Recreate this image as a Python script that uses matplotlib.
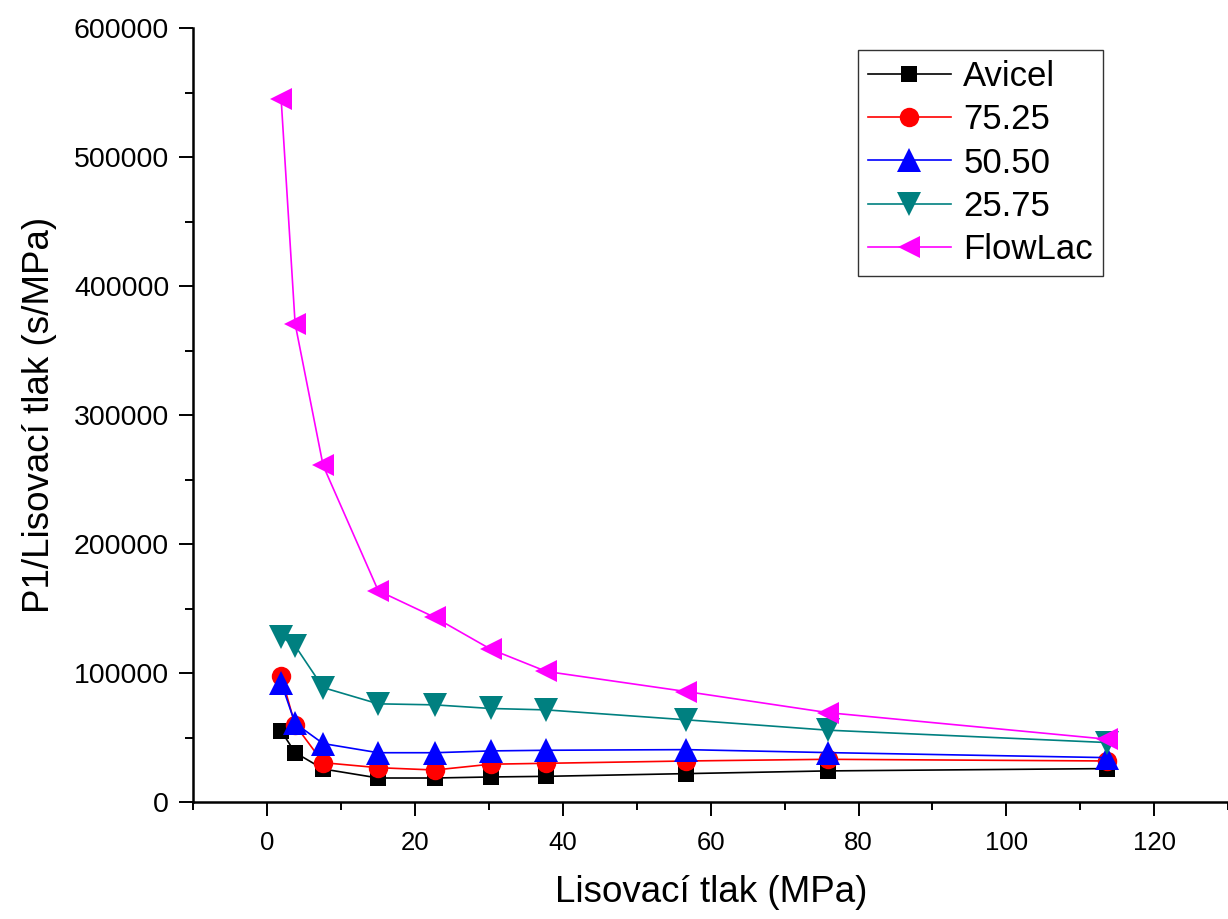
import matplotlib
matplotlib.use("Agg")
import matplotlib.pyplot as plt
from matplotlib.ticker import MultipleLocator

plt.rcParams['font.family'] = ['Liberation Sans', 'DejaVu Sans']

# Compaction pressure (MPa)
pressure = [1.86, 3.75, 7.54, 15.0, 22.66, 30.2, 37.75, 56.7, 75.8, 113.6]

# P1 / compaction pressure (s/MPa) for each blend
avicel = [55100, 38300, 25600, 18600, 18600, 19400, 19900, 22000, 24100, 25900]
blend_75_25 = [97800, 59800, 30500, 26600, 24800, 29300, 30000, 31800, 33100, 31800]
blend_50_50 = [92600, 61000, 45300, 38200, 38200, 39600, 40100, 40600, 38300, 34400]
blend_25_75 = [128100, 121100, 88700, 76100, 75300, 72500, 71400, 63700, 55700, 46100]
flowlac = [545000, 370900, 260900, 163800, 143100, 118500, 101200, 85600, 69300, 48700]

series_labels = ["Avicel", "75.25", "50.50", "25.75", "FlowLac"]
series_values = [avicel, blend_75_25, blend_50_50, blend_25_75, flowlac]
series_colors = ["#000000", "#FF0000", "#0000FF", "#008080", "#FF00FF"]
series_markers = ["s", "o", "^", "v", "<"]
series_msize = [12, 14, 17, 17, 16.5]

fig = plt.figure(figsize=(12.28, 9.19), dpi=100)
ax = fig.add_axes([193.5 / 1228, 117 / 919, 1 - 193.5 / 1228, (802 - 28) / 919])

for lab, vals, col, mk, ms in zip(series_labels, series_values, series_colors,
                                  series_markers, series_msize):
    ax.plot(pressure, vals, color=col, marker=mk, markersize=ms, linewidth=1.2,
            markeredgewidth=0, label=lab)

ax.set_xlim(-10, 130)
ax.set_ylim(0, 600000)
ax.xaxis.set_major_locator(MultipleLocator(20))
ax.xaxis.set_minor_locator(MultipleLocator(10))
ax.yaxis.set_major_locator(MultipleLocator(100000))
ax.yaxis.set_minor_locator(MultipleLocator(50000))

for side in ("top", "right"):
    ax.spines[side].set_visible(False)
for side in ("left", "bottom"):
    ax.spines[side].set_linewidth(1.8)

ax.tick_params(axis="both", which="major", direction="out", length=10, width=1.4)
ax.tick_params(axis="both", which="minor", direction="out", length=5.5, width=1.4)
ax.tick_params(axis="x", which="major", labelsize=18.5, pad=11)
ax.tick_params(axis="y", which="major", labelsize=20.5, pad=7.5)

ax.set_xlabel("Lisovací tlak (MPa)", fontsize=26.5, labelpad=14)
ax.set_ylabel("P1/Lisovací tlak (s/MPa)", fontsize=26.5, labelpad=12)

leg = fig.legend(loc="upper left", bbox_to_anchor=(858 / 1228, 1 - 50 / 919),
                 bbox_transform=fig.transFigure, borderaxespad=0,
                 fontsize=25, frameon=True, fancybox=False, handlelength=2.4,
                 handletextpad=0.35, labelspacing=0.3, borderpad=0.28,
                 markerscale=1.0)
leg.get_frame().set_edgecolor("black")
leg.get_frame().set_linewidth(1.0)

fig.savefig("out.png", dpi=100)
